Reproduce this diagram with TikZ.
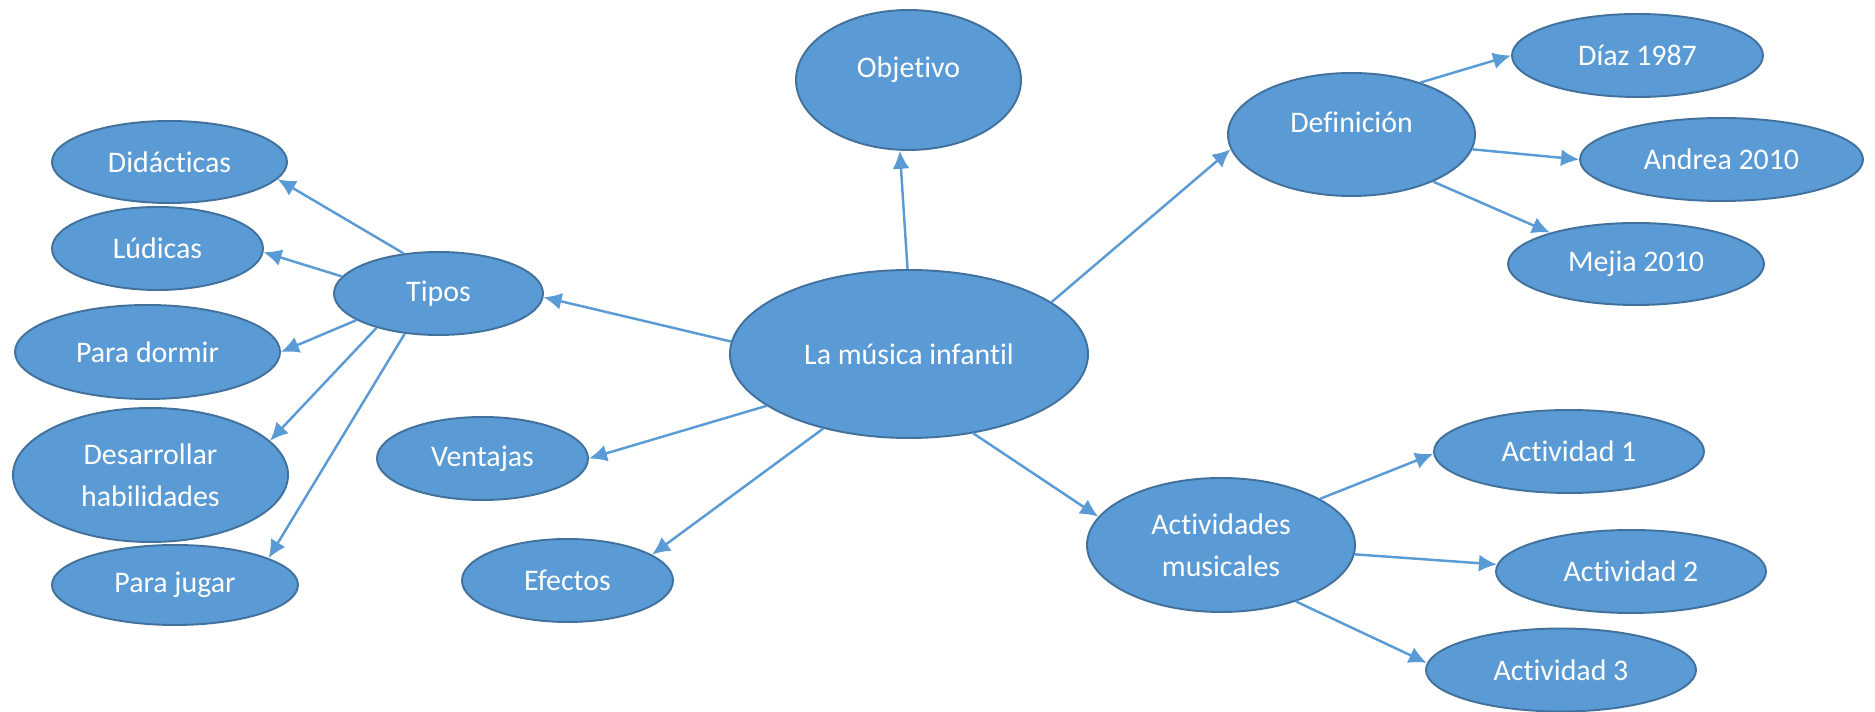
\documentclass[tikz,border=0pt]{standalone}
\usepackage{fontspec}
\setmainfont[Ligatures=NoCommon]{Carlito}
\usetikzlibrary{shapes.geometric,arrows.meta}
\definecolor{azul}{HTML}{5B9BD5}
\definecolor{borde}{HTML}{41719C}
\tikzset{
  burbuja/.style={ellipse, fill=azul, draw=borde, line width=1.1pt, text=white,
    align=center, inner sep=0pt, font=\fontsize{17}{23.7}\selectfont},
  flecha/.style={draw=azul, line width=1.4pt, -{Latex[length=0.36cm,width=0.34cm]}}
}
\begin{document}
\begin{tikzpicture}
    \useasboundingbox (0,0) rectangle (37.5,14.24);
    % Nodo central
    \node[burbuja, minimum width=7.16cm, minimum height=3.36cm] (central) at (18.18,7.16) {La música infantil};
    \node[burbuja, minimum width=4.50cm, minimum height=2.80cm] (objetivo) at (18.17,12.64) {\raisebox{0.52cm}{Objetivo}};
    % Definicion y autores
    \node[burbuja, minimum width=4.94cm, minimum height=2.46cm] (definicion) at (27.03,11.55) {\raisebox{0.48cm}{Definición}};
    \node[burbuja, minimum width=5.02cm, minimum height=1.66cm] (diaz)   at (32.75,13.13) {Díaz 1987};
    \node[burbuja, minimum width=5.66cm, minimum height=1.66cm] (andrea) at (34.43,11.05) {Andrea 2010};
    \node[burbuja, minimum width=5.12cm, minimum height=1.64cm] (mejia)  at (32.72,8.96)  {Mejia 2010};
    % Tipos
    \node[burbuja, minimum width=4.18cm, minimum height=1.66cm] (tipos)       at (8.77,8.37)  {Tipos};
    \node[burbuja, minimum width=4.70cm, minimum height=1.64cm] (didacticas)  at (3.39,11.00) {Didácticas};
    \node[burbuja, minimum width=4.22cm, minimum height=1.66cm] (ludicas)     at (3.15,9.27)  {Lúdicas};
    \node[burbuja, minimum width=5.30cm, minimum height=1.88cm] (paradormir)  at (2.95,7.20)  {Para dormir};
    \node[burbuja, minimum width=5.50cm, minimum height=2.68cm] (desarrollar) at (3.01,4.74)  {Desarrollar\\habilidades};
    \node[burbuja, minimum width=4.92cm, minimum height=1.60cm] (parajugar)   at (3.50,2.54)  {Para jugar};
    % Ventajas y efectos
    \node[burbuja, minimum width=4.22cm, minimum height=1.66cm] (ventajas) at (9.65,5.07)  {Ventajas};
    \node[burbuja, minimum width=4.22cm, minimum height=1.66cm] (efectos)  at (11.35,2.63) {Efectos};
    % Actividades
    \node[burbuja, minimum width=5.36cm, minimum height=2.68cm] (actividades) at (24.42,3.34) {Actividades\\musicales};
    \node[burbuja, minimum width=5.40cm, minimum height=1.66cm] (act1) at (31.38,5.21) {Actividad 1};
    \node[burbuja, minimum width=5.40cm, minimum height=1.66cm] (act2) at (32.62,2.81) {Actividad 2};
    \node[burbuja, minimum width=5.40cm, minimum height=1.66cm] (act3) at (31.22,0.84) {Actividad 3};
    % Flechas desde el centro
    \draw[flecha] (central.91)  -- (objetivo.263);
    \draw[flecha] (central.20)  -- (definicion.187);
    \draw[flecha] (central.176) -- (tipos.-2);
    \draw[flecha] (central.200) -- (ventajas.0);
    \draw[flecha] (central.221) -- (efectos.17);
    \draw[flecha] (central.-51) -- (actividades.167);
    % Flechas de definicion
    \draw[flecha] (definicion.37)  -- (diaz.180);
    \draw[flecha] (definicion.-7)  -- (andrea.180);
    \draw[flecha] (definicion.-30) -- (mejia.160);
    % Flechas de tipos
    \draw[flecha] (tipos.131) -- (didacticas.-9);
    \draw[flecha] (tipos.170) -- (ludicas.-2);
    \draw[flecha] (tipos.198) -- (paradormir.0);
    \draw[flecha] (tipos.209) -- (desarrollar.16);
    \draw[flecha] (tipos.230) -- (parajugar.16);
    % Flechas de actividades
    \draw[flecha] (actividades.25) -- (act1.181);
    \draw[flecha] (actividades.-4) -- (act2.177);
    \draw[flecha] (actividades.-37) -- (act3.177);
\end{tikzpicture}
\end{document}
